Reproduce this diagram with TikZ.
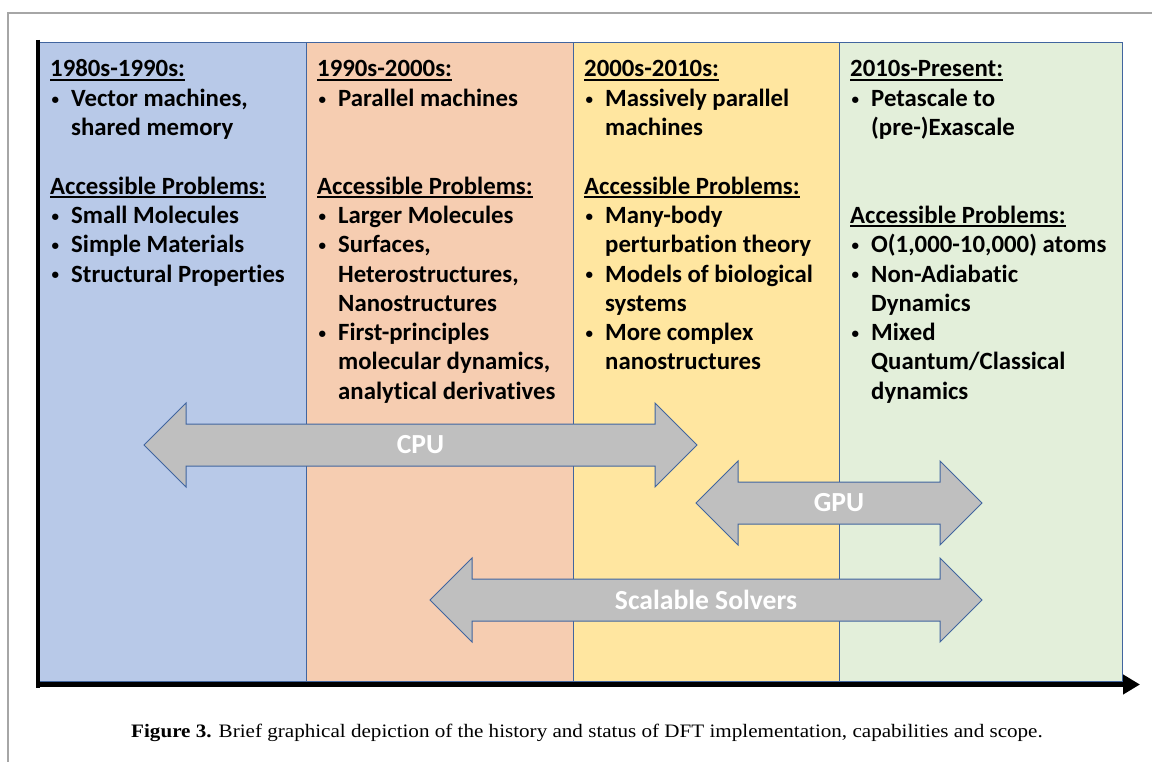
\documentclass[tikz,border=0pt]{standalone}
\usepackage{fontspec}
\setmainfont{Carlito}[Ligatures=NoCommon]
\newfontfamily\capfont{Liberation Serif}[FakeStretch=1.11]
\usetikzlibrary{arrows.meta}
\definecolor{bluefill}{HTML}{B8C9E8}
\definecolor{peachfill}{HTML}{F6CDB1}
\definecolor{yellowfill}{HTML}{FFE6A0}
\definecolor{greenfill}{HTML}{E3EFDA}
\definecolor{edgeblue}{HTML}{41659F}
\definecolor{arrowgray}{HTML}{BFBFBF}
\definecolor{framegray}{HTML}{A6A6A6}
\newcommand\brk{\hfil\break}
\newcommand\smallbullet{\raisebox{6.2pt}{\rule{0pt}{0pt}}\hbox{\fontsize{15}{15}\selectfont\raisebox{2.2pt}{\textbullet}}}
\newcommand\itm{\par\hangindent=21pt\hangafter=1\noindent\hbox to 21pt{\hskip1.5pt\smallbullet\hss}}
\newcommand\blankln{\par\vskip29.3pt}
\newcommand\ulhead[1]{\par\noindent\setbox0=\hbox{#1}\rlap{\rule[-3.6pt]{\wd0}{1.8pt}}\box0}
\newcommand\colblock[1]{\vtop{\hsize=300pt\fontsize{24.8}{29.3}\selectfont\bfseries\parindent=0pt\rightskip=0pt plus 1fil\parfillskip=0pt plus 1fil #1\par}}
\begin{document}
\begin{tikzpicture}[x=1pt,y=-1pt,
  colbox/.style={draw=edgeblue,line width=0.9pt},
  blockstyle/.style={anchor=base west,inner sep=0pt},
  dblarrow/.style={fill=arrowgray,draw=edgeblue,line width=1pt,line join=miter},
  arrowlabel/.style={inner sep=0pt,text=white,font=\fontsize{27.6}{30}\selectfont\bfseries},
  axis/.style={line width=5pt,black}]
\useasboundingbox (0,0) rectangle (1152,762);
\fill[white] (0,0) rectangle (1152,762);
% outer frame
\draw[framegray,line width=1.3pt] (8,762) -- (8,13) -- (1152,13);
% columns
\draw[colbox,fill=bluefill] (38,42) rectangle (306,681);
\draw[colbox,fill=peachfill] (306,42) rectangle (573,681);
\draw[colbox,fill=yellowfill] (573,42) rectangle (839,681);
\draw[colbox,fill=greenfill] (839,42) rectangle (1122,681);
% text blocks
\node[blockstyle] (c1) at (50,77) {\colblock{%
\ulhead{1980s-1990s:}
\itm Vector machines,\brk shared memory
\blankln
\ulhead{Accessible Problems:}
\itm Small Molecules
\itm Simple Materials
\itm Structural Properties}};
\node[blockstyle] (c2) at (317,77) {\colblock{%
\ulhead{1990s-2000s:}
\itm Parallel machines
\blankln\blankln
\ulhead{Accessible Problems:}
\itm Larger Molecules
\itm Surfaces,\brk Heterostructures,\brk Nanostructures
\itm First-principles\brk molecular dynamics,\brk analytical derivatives}};
\node[blockstyle] (c3) at (584,77) {\colblock{%
\ulhead{2000s-2010s:}
\itm Massively parallel\brk machines
\blankln
\ulhead{Accessible Problems:}
\itm Many-body\brk perturbation theory
\itm Models of biological\brk systems
\itm More complex\brk nanostructures}};
\node[blockstyle] (c4) at (850,77) {\colblock{%
\ulhead{2010s-Present:}
\itm Petascale to\brk (pre-)Exascale
\blankln\blankln
\ulhead{Accessible Problems:}
\itm O(1,000-10,000) atoms
\itm Non-Adiabatic\brk Dynamics
\itm Mixed\brk Quantum/Classical\brk dynamics}};
% double arrows
\draw[dblarrow] (144,445) -- (186,403) -- (186,424) -- (655,424) -- (655,403) -- (697,445)
  -- (655,487) -- (655,466) -- (186,466) -- (186,487) -- cycle;
\node[arrowlabel] (cpu) at (420.5,445) {CPU};
\draw[dblarrow] (696,503) -- (738,461) -- (738,482) -- (940,482) -- (940,461) -- (982,503)
  -- (940,545) -- (940,524) -- (738,524) -- (738,545) -- cycle;
\node[arrowlabel] (gpu) at (839,503) {GPU};
\draw[dblarrow] (430,600) -- (472,558) -- (472,579) -- (940,579) -- (940,558) -- (982,600)
  -- (940,642) -- (940,621) -- (472,621) -- (472,642) -- cycle;
\node[arrowlabel] (solvers) at (706,600) {Scalable Solvers};
% axes
\coordinate (ytop) at (38,40);
\coordinate (origin) at (38,684.5);
\coordinate (xend) at (1140,684.5);
\draw[line width=4pt] (ytop) -- ([yshift=-3pt]origin);
\draw[axis,-{Triangle[length=17pt,width=19pt]}] ([xshift=-2pt]origin) -- (xend);
% caption
\node[anchor=base,inner sep=0pt,font=\capfont\fontsize{19}{21}\selectfont] (caption) at (587,737)
  {\textbf{Figure 3.} Brief graphical depiction of the history and status of DFT implementation, capabilities and scope.};
\end{tikzpicture}
\end{document}
